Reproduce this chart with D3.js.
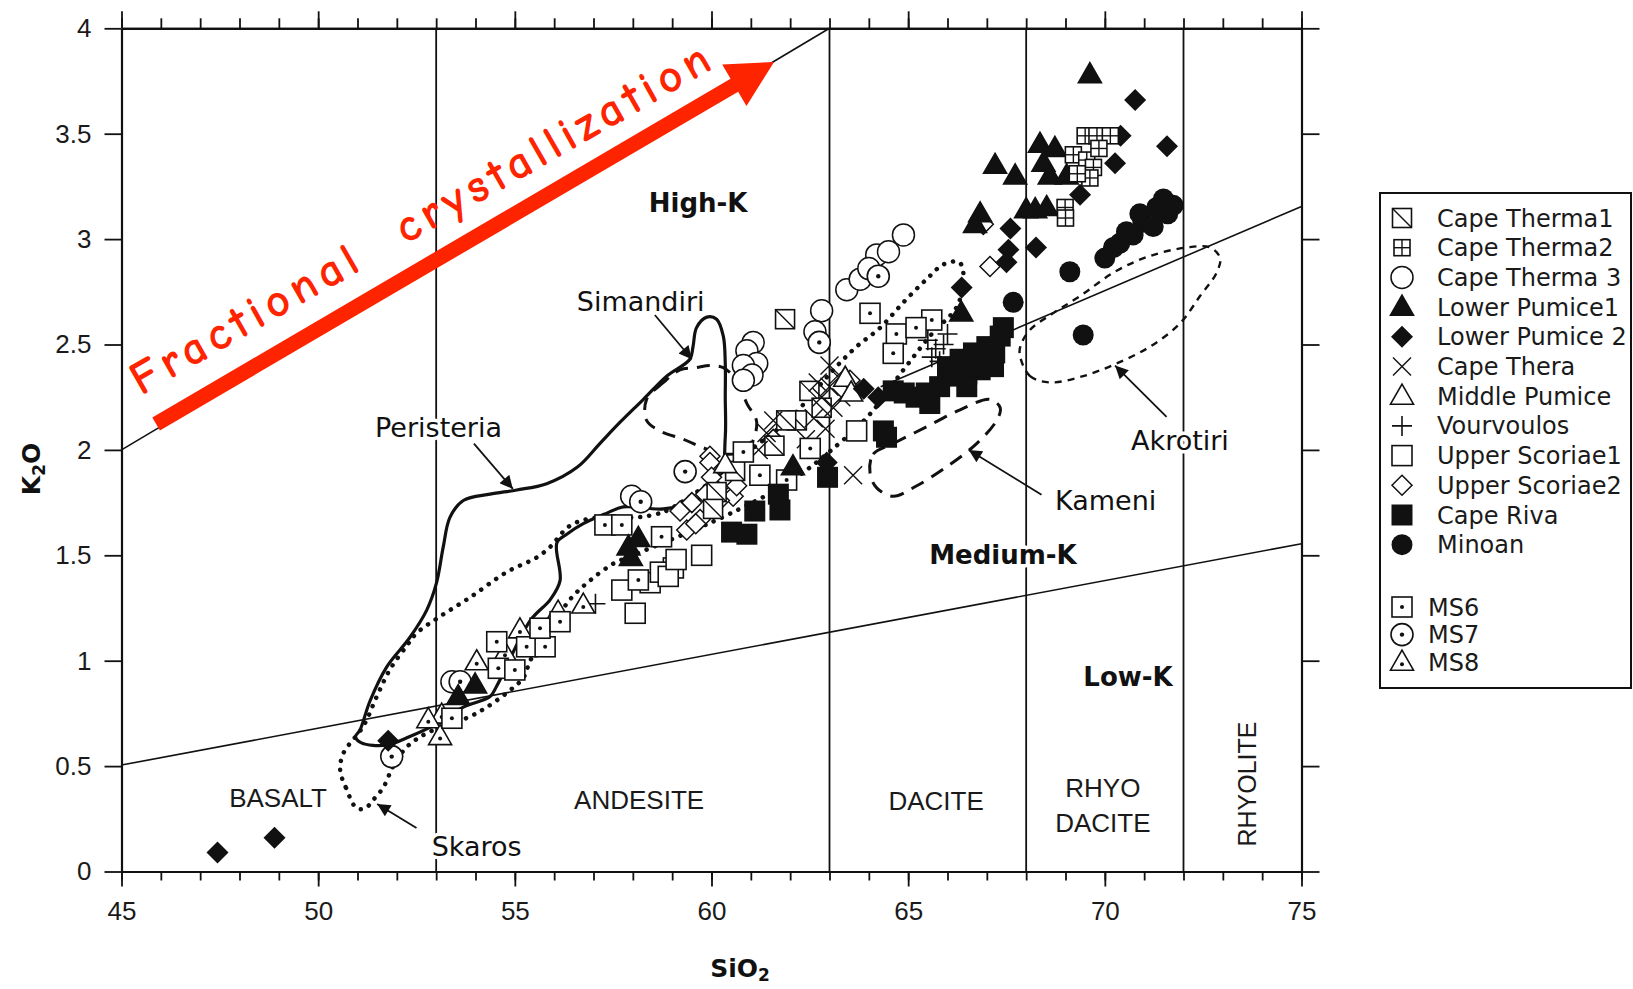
<!DOCTYPE html>
<html lang="en">
<head>
<meta charset="utf-8">
<title>K2O vs SiO2 - Santorini</title>
<script src="https://cdn.jsdelivr.net/npm/d3@7"></script>
<style>
  body { margin: 0; background: #fff; }
  svg { display: block; }
</style>
</head>
<body>
<script>

// ---- data (SiO2, K2O) ----
var capeTherma1 = [[61.87,2.62],[62.49,2.28],[62.17,2.14],[61.9,2.14],[62.8,2.2],[60.13,1.80],[60.04,1.72],[60.6,1.9],[61.6,2.02]];
var capeTherma2 = [[69.5,3.49],[69.8,3.49],[70.14,3.49],[69.2,3.40],[69.54,3.375],[69.71,3.34],[69.62,3.29],[69.3,3.31],[69.85,3.43],[68.99,3.15],[69.0,3.10]];
var capeTherma3 = [[61.06,2.51],[60.9,2.47],[61.15,2.41],[60.81,2.40],[61.03,2.355],[60.81,2.33],[62.8,2.66],[62.63,2.56],[63.44,2.76],[63.78,2.81],[64.2,2.925],[64.5,2.94],[64.88,3.02],[64.0,2.86],[57.97,1.78],[53.4,0.90]];
var lowerPumice1 = [[69.62,3.78],[67.21,3.35],[67.72,3.30],[66.83,3.12],[66.7,3.07],[68.35,3.45],[68.73,3.43],[68.44,3.36],[68.6,3.30],[69.03,3.30],[68.23,3.14],[68.52,3.15],[68.0,3.14],[66.35,2.65],[62.07,1.92],[57.89,1.54],[58.14,1.58],[57.95,1.49],[53.99,0.885],[53.56,0.83]];
var lowerPumice2 = [[47.44,0.09],[48.89,0.16],[51.78,0.62],[62.93,1.94],[63.87,2.29],[64.24,2.25],[66.36,2.77],[67.6,3.05],[67.55,2.95],[67.5,2.89],[68.25,2.96],[70.77,3.66],[71.58,3.44],[70.4,3.49],[70.26,3.36],[69.37,3.21]];
var capeThera = [[62.6,2.15],[62.8,2.25],[63.0,2.3],[63.1,2.2],[63.2,2.35],[62.9,2.1],[63.3,2.25],[62.4,2.05],[63.0,2.4],[62.7,2.32],[61.57,2.14],[61.4,2.08],[61.2,2.0],[63.6,1.88]];
var middlePumice = [[63.4,2.34],[63.55,2.27],[60.35,1.93]];
var vourvoulos = [[65.5,2.52],[65.7,2.48],[65.9,2.5],[65.6,2.44],[66.0,2.55],[65.8,2.42],[57.05,1.27]];
var upperScoriae1 = [[57.72,1.335],[58.06,1.225],[59.03,1.44],[59.75,1.50],[58.44,1.37],[58.7,1.42],[58.9,1.40],[59.1,1.48],[63.69,2.09]];
var upperScoriae2 = [[59.2,1.71],[59.37,1.62],[59.71,1.67],[59.96,1.97],[60.55,1.78],[61.57,2.05],[59.96,1.94],[60.38,1.86],[60.64,1.83],[59.5,1.75],[59.85,1.79],[60.0,1.87],[59.6,1.65],[60.2,1.76],[66.91,3.07],[67.08,2.87],[63.52,2.33]];
var capeRiva = [[60.51,1.61],[60.9,1.60],[61.1,1.71],[61.7,1.79],[61.74,1.715],[62.95,1.87],[64.37,2.09],[64.45,2.06],[64.62,2.28],[64.9,2.27],[65.2,2.25],[65.46,2.27],[65.55,2.22],[65.8,2.3],[66.0,2.395],[66.32,2.43],[66.66,2.46],[67.0,2.49],[67.34,2.54],[67.42,2.58],[66.49,2.36],[66.83,2.38],[67.17,2.395],[66.49,2.30],[66.15,2.35],[66.9,2.42],[67.2,2.46],[66.6,2.4]];
var minoan = [[69.11,2.845],[70.0,2.91],[70.38,2.98],[70.72,3.02],[70.97,3.08],[70.89,3.12],[71.32,3.15],[71.49,3.19],[71.74,3.16],[71.23,3.06],[70.55,3.035],[70.22,2.96],[67.67,2.70],[69.45,2.545],[71.6,3.12]];
var ms6 = [[54.54,1.09],[54.58,0.964],[55.0,0.956],[55.3,1.066],[55.77,1.066],[55.64,1.154],[56.15,1.185],[53.4,0.727],[57.29,1.644],[57.72,1.644],[58.14,1.383],[58.73,1.588],[60.81,1.99],[61.23,1.88],[61.91,1.857],[62.51,2.007],[64.03,2.648],[64.7,2.55],[64.62,2.458],[65.6,2.616],[65.2,2.58]];
var ms7 = [[53.61,0.90],[51.87,0.545],[58.2,1.754],[59.33,1.897],[62.74,2.51],[64.24,2.824]];
var ms8 = [[54.03,0.995],[54.75,1.035],[55.13,1.146],[56.1,1.23],[56.74,1.264],[53.14,0.742],[52.8,0.72],[53.1,0.64]];

// fields
var peristeria = [[50.95,0.64],[51.06,0.67],[51.32,0.81],[51.74,0.97],[52.33,1.11],[52.76,1.24],[53.01,1.37],[53.18,1.54],[53.35,1.68],[53.69,1.76],[54.37,1.79],[55.05,1.81],[55.81,1.84],[56.6,1.92],[57.16,2.03],[57.67,2.13],[58.27,2.24],[58.86,2.35],[59.45,2.43],[59.53,2.49],[59.62,2.58],[59.88,2.63],[60.13,2.62],[60.3,2.54],[60.35,2.41],[60.35,2.25],[60.35,2.06],[60.2,1.85],[59.6,1.76],[58.78,1.72],[57.76,1.73],[57.34,1.70],[56.74,1.65],[56.32,1.60],[56.07,1.56],[56.15,1.38],[55.9,1.29],[55.39,1.19],[54.54,0.88],[54.37,0.83],[53.69,0.78],[53.01,0.70],[52.33,0.64],[51.74,0.60],[51.1,0.61]];
var skaros = [[50.98,0.30],[50.7,0.40],[50.56,0.48],[50.64,0.56],[51.15,0.69],[51.49,0.83],[51.83,0.96],[52.25,1.07],[52.5,1.13],[53.1,1.21],[53.86,1.30],[54.79,1.42],[55.56,1.49],[55.9,1.54],[56.4,1.64],[57.08,1.68],[58.1,1.68],[58.69,1.70],[58.95,1.72],[60.0,1.85],[61.0,2.0],[62.0,2.15],[63.1,2.38],[63.69,2.49],[64.29,2.58],[64.88,2.70],[65.47,2.81],[65.9,2.88],[66.3,2.89],[66.41,2.82],[66.24,2.68],[65.6,2.55],[64.88,2.38],[64.03,2.17],[63.18,2.02],[62.0,1.85],[60.5,1.7],[59.3,1.6],[58.0,1.5],[57.5,1.46],[56.91,1.38],[56.4,1.29],[55.8,1.12],[55.39,1.00],[55.22,0.92],[54.88,0.86],[54.29,0.78],[53.86,0.735],[52.76,0.656],[52.25,0.59],[51.91,0.50],[51.66,0.40],[51.4,0.34],[51.2,0.30]];
var simandiri = [[59.2,2.38],[58.78,2.32],[58.35,2.24],[58.35,2.14],[58.69,2.09],[59.29,2.05],[59.79,2.01],[60.3,1.98],[60.9,2.0],[61.15,2.13],[60.9,2.22],[60.64,2.33],[60.3,2.39],[59.96,2.40],[59.6,2.39]];
var kameni = [[64.03,1.89],[64.11,1.98],[64.62,2.03],[65.47,2.11],[66.32,2.19],[67.08,2.24],[67.34,2.2],[67.25,2.14],[66.74,2.03],[65.98,1.92],[65.22,1.83],[64.62,1.78],[64.2,1.82]];
var akrotiri = [[67.85,2.44],[68.1,2.35],[68.61,2.32],[69.45,2.35],[70.3,2.41],[71.15,2.49],[71.91,2.60],[72.42,2.73],[72.84,2.84],[72.93,2.91],[72.68,2.96],[72.08,2.96],[71.15,2.92],[70.3,2.85],[69.37,2.73],[68.7,2.65],[68.1,2.57],[67.85,2.49]];

// boundaries
var highKUpper = [[45,2.0],[63,4.0]];
var highMedium = [[64.3,2.30],[75,3.155]];
var mediumLow = [[45,0.505],[75,1.555]];
var rockBounds = [53, 63, 68, 72];

var xMajorTicks = [45, 50, 55, 60, 65, 70, 75];
var xMinorTicks = d3.range(45, 76);
var yTicks = [0, 0.5, 1, 1.5, 2, 2.5, 3, 3.5, 4];
var yTickLabels = ["0", "0.5", "1", "1.5", "2", "2.5", "3", "3.5", "4"];

var series = [
  { name: "Cape Therma1", data: capeTherma1, sym: "sqDiag" },
  { name: "Cape Therma2", data: capeTherma2, sym: "sqGrid" },
  { name: "Cape Therma 3", data: capeTherma3, sym: "circle" },
  { name: "Lower Pumice1", data: lowerPumice1, sym: "triFill" },
  { name: "Lower Pumice 2", data: lowerPumice2, sym: "diaFill" },
  { name: "Cape Thera", data: capeThera, sym: "cross" },
  { name: "Middle Pumice", data: middlePumice, sym: "triOpen" },
  { name: "Vourvoulos", data: vourvoulos, sym: "plus" },
  { name: "Upper Scoriae1", data: upperScoriae1, sym: "sqOpen" },
  { name: "Upper Scoriae2", data: upperScoriae2, sym: "diaOpen" },
  { name: "Cape Riva", data: capeRiva, sym: "sqFill" },
  { name: "Minoan", data: minoan, sym: "cirFill" },
  { name: "MS6", data: ms6, sym: "sqDot" },
  { name: "MS7", data: ms7, sym: "cirDot" },
  { name: "MS8", data: ms8, sym: "triDot" }
];
// order the marks are stacked in the plot
var drawOrder = ["Upper Scoriae1", "Upper Scoriae2", "Cape Therma1", "Cape Thera", "Middle Pumice", "Vourvoulos",
  "MS8", "MS6", "Cape Therma 3", "MS7", "Cape Riva", "Lower Pumice 2", "Lower Pumice1", "Cape Therma2", "Minoan"];

// ---- page ----
var w = 1633, h = 989;
var svg = d3.select("body").append("svg").attr("width", w).attr("height", h);

var xScale = d3.scaleLinear().domain([45, 75]).range([121.5, 1301.5]);
var yScale = d3.scaleLinear().domain([0, 4]).range([871.5, 28.3]);

var defs = svg.append("defs");
defs.append("marker").attr("id", "ah")
  .attr("viewBox", "0 0 10 10").attr("refX", 10).attr("refY", 5)
  .attr("markerUnits", "userSpaceOnUse").attr("markerWidth", 20).attr("markerHeight", 13)
  .attr("orient", "auto")
  .append("path").attr("d", "M0,0 L10,5 L0,10 Z").attr("fill", "#111");

var plot = svg.append("g");

// rock type boundaries
plot.selectAll(".vb").data(rockBounds).enter().append("line")
  .attr("x1", function(d) { return xScale(d); }).attr("x2", function(d) { return xScale(d); })
  .attr("y1", yScale(0)).attr("y2", yScale(4))
  .attr("stroke", "#111").attr("stroke-width", 1.8);

var seg = d3.line().x(function(d) { return xScale(d[0]); }).y(function(d) { return yScale(d[1]); });
[highKUpper, highMedium, mediumLow].forEach(function(l) {
  plot.append("path").attr("d", seg(l)).attr("fill", "none").attr("stroke", "#111").attr("stroke-width", 1.6);
});

// fields
var loop = d3.line().x(function(d) { return xScale(d[0]); }).y(function(d) { return yScale(d[1]); })
  .curve(d3.curveCatmullRomClosed.alpha(0.5));

plot.append("path").attr("d", loop(skaros)).attr("fill", "none").attr("stroke", "#111")
  .attr("stroke-width", 4.5).attr("stroke-linecap", "round").attr("stroke-dasharray", "0.1 9");
plot.append("path").attr("d", loop(peristeria)).attr("fill", "none").attr("stroke", "#111")
  .attr("stroke-width", 3.2).attr("stroke-linejoin", "round");
plot.append("path").attr("d", loop(simandiri)).attr("fill", "none").attr("stroke", "#111")
  .attr("stroke-width", 3).attr("stroke-dasharray", "13 9");
plot.append("path").attr("d", loop(kameni)).attr("fill", "none").attr("stroke", "#111")
  .attr("stroke-width", 3).attr("stroke-dasharray", "14 9");
plot.append("path").attr("d", loop(akrotiri)).attr("fill", "none").attr("stroke", "#111")
  .attr("stroke-width", 2.4).attr("stroke-dasharray", "7 6");

// symbols
function drawSymbol(g, sym) {
  var k = "#111";
  function tri(fill) {
    return g.append("path").attr("d", "M0,-12 L11.5,8 L-11.5,8 Z").attr("fill", fill).attr("stroke", k).attr("stroke-width", 1.6);
  }
  switch (sym) {
    case "sqDiag":
      g.append("rect").attr("x", -9.5).attr("y", -9.5).attr("width", 19).attr("height", 19).attr("fill", "#fff").attr("stroke", k).attr("stroke-width", 1.6);
      g.append("line").attr("x1", -9.5).attr("y1", -9.5).attr("x2", 9.5).attr("y2", 9.5).attr("stroke", k).attr("stroke-width", 1.4);
      break;
    case "sqGrid":
      g.append("rect").attr("x", -8).attr("y", -8).attr("width", 16).attr("height", 16).attr("fill", "#fff").attr("stroke", k).attr("stroke-width", 1.6);
      g.append("line").attr("x1", 0).attr("y1", -8).attr("x2", 0).attr("y2", 8).attr("stroke", k).attr("stroke-width", 1.4);
      g.append("line").attr("x1", -8).attr("y1", 0).attr("x2", 8).attr("y2", 0).attr("stroke", k).attr("stroke-width", 1.4);
      break;
    case "circle":
      g.append("circle").attr("r", 11).attr("fill", "#fff").attr("stroke", k).attr("stroke-width", 1.5);
      break;
    case "triFill": tri(k); break;
    case "triOpen": tri("#fff"); break;
    case "triDot":
      tri("#fff");
      g.append("circle").attr("cy", 2).attr("r", 2).attr("fill", k);
      break;
    case "diaFill":
      g.append("path").attr("d", "M0,-11 L11,0 L0,11 L-11,0 Z").attr("fill", k);
      break;
    case "diaOpen":
      g.append("path").attr("d", "M0,-10 L10,0 L0,10 L-10,0 Z").attr("fill", "#fff").attr("stroke", k).attr("stroke-width", 1.5);
      break;
    case "cross":
      g.append("path").attr("d", "M-9,-9 L9,9 M-9,9 L9,-9").attr("stroke", k).attr("stroke-width", 1.4);
      break;
    case "plus":
      g.append("path").attr("d", "M-10,0 L10,0 M0,-10 L0,10").attr("stroke", k).attr("stroke-width", 1.6);
      break;
    case "sqOpen":
      g.append("rect").attr("x", -10).attr("y", -10).attr("width", 20).attr("height", 20).attr("fill", "#fff").attr("stroke", k).attr("stroke-width", 1.6);
      break;
    case "sqFill":
      g.append("rect").attr("x", -10.5).attr("y", -10.5).attr("width", 21).attr("height", 21).attr("fill", k);
      break;
    case "cirFill":
      g.append("circle").attr("r", 10.5).attr("fill", k);
      break;
    case "sqDot":
      g.append("rect").attr("x", -10).attr("y", -10).attr("width", 20).attr("height", 20).attr("fill", "#fff").attr("stroke", k).attr("stroke-width", 1.6);
      g.append("circle").attr("r", 2).attr("fill", k);
      break;
    case "cirDot":
      g.append("circle").attr("r", 11).attr("fill", "#fff").attr("stroke", k).attr("stroke-width", 1.6);
      g.append("circle").attr("r", 2.2).attr("fill", k);
      break;
  }
}

drawOrder.forEach(function(name) {
  var s = series.find(function(d) { return d.name === name; });
  plot.append("g").selectAll("g").data(s.data).enter().append("g")
    .attr("transform", function(d) { return "translate(" + xScale(d[0]) + "," + yScale(d[1]) + ")"; })
    .each(function() { drawSymbol(d3.select(this), s.sym); });
});

// ---- axes ----
function styleAxis(g) {
  g.select(".domain").attr("stroke", "#111").attr("stroke-width", 2.2);
  g.selectAll(".tick line").attr("stroke", "#111").attr("stroke-width", 1.8);
  g.selectAll("text").attr("font-family", "'Liberation Sans', Arial, sans-serif").attr("font-size", 26).attr("fill", "#1a1a1a");
}
svg.append("g").attr("transform", "translate(0," + yScale(0) + ")")
  .call(d3.axisBottom(xScale).tickValues(xMinorTicks).tickSize(9).tickSizeOuter(0).tickFormat("")).call(styleAxis);
svg.append("g").attr("transform", "translate(0," + yScale(0) + ")")
  .call(d3.axisBottom(xScale).tickValues(xMajorTicks).tickSize(15).tickPadding(15).tickSizeOuter(0).tickFormat(d3.format("d"))).call(styleAxis);
svg.append("g").attr("transform", "translate(0," + yScale(4) + ")")
  .call(d3.axisTop(xScale).tickValues(xMinorTicks).tickSize(10).tickSizeOuter(0).tickFormat("")).call(styleAxis);
svg.append("g").attr("transform", "translate(0," + yScale(4) + ")")
  .call(d3.axisTop(xScale).tickValues(xMajorTicks).tickSize(17).tickSizeOuter(0).tickFormat("")).call(styleAxis);
svg.append("g").attr("transform", "translate(" + xScale(45) + ",0)")
  .call(d3.axisLeft(yScale).tickValues(yTicks).tickSize(17).tickPadding(13).tickSizeOuter(0)
    .tickFormat(function(d, i) { return yTickLabels[i]; })).call(styleAxis);
svg.append("g").attr("transform", "translate(" + xScale(75) + ",0)")
  .call(d3.axisRight(yScale).tickValues(yTicks).tickSize(18).tickSizeOuter(0).tickFormat("")).call(styleAxis);

// axis titles
var t1 = svg.append("text").attr("transform", "translate(40," + 469 + ") rotate(-90)")
  .attr("text-anchor", "middle").attr("font-family", "'DejaVu Sans', sans-serif").attr("font-weight", "bold")
  .attr("font-size", 25).attr("fill", "#111");
t1.append("tspan").text("K");
t1.append("tspan").attr("font-size", 17).attr("dy", 5).text("2");
t1.append("tspan").attr("dy", -5).text("O");
var t2 = svg.append("text").attr("x", 740).attr("y", 977)
  .attr("text-anchor", "middle").attr("font-family", "'DejaVu Sans', sans-serif").attr("font-weight", "bold")
  .attr("font-size", 25).attr("fill", "#111");
t2.append("tspan").text("SiO");
t2.append("tspan").attr("font-size", 17).attr("dy", 4).text("2");

// ---- annotations ----
function halo(sel) {
  return sel.attr("stroke", "#fff").attr("stroke-width", 7).attr("paint-order", "stroke").attr("stroke-linejoin", "round");
}
var fieldLabels = [
  { t: "Simandiri", x: 58.2, y: 2.66 },
  { t: "Peristeria", x: 53.06, y: 2.063 },
  { t: "Skaros", x: 54.03, y: 0.075 },
  { t: "Kameni", x: 70.02, y: 1.715 },
  { t: "Akrotiri", x: 71.91, y: 2.0 }
];
var leaders = [
  [[58.56, 2.64], [59.5, 2.43]],
  [[53.96, 2.03], [54.95, 1.815]],
  [[52.5, 0.206], [51.5, 0.32]],
  [[68.39, 1.787], [66.54, 2.0]],
  [[71.57, 2.157], [70.26, 2.40]]
];
leaders.forEach(function(l) {
  svg.append("line").attr("x1", xScale(l[0][0])).attr("y1", yScale(l[0][1]))
    .attr("x2", xScale(l[1][0])).attr("y2", yScale(l[1][1]))
    .attr("stroke", "#111").attr("stroke-width", 1.8).attr("marker-end", "url(#ah)");
});
svg.selectAll(".fl").data(fieldLabels).enter().append("text")
  .attr("x", function(d) { return xScale(d.x); }).attr("y", function(d) { return yScale(d.y); })
  .attr("text-anchor", "middle").attr("font-family", "'DejaVu Sans', sans-serif").attr("font-size", 27)
  .attr("fill", "#111").text(function(d) { return d.t; }).call(halo);

var kLabels = [
  { t: "High-K", x: 59.66, y: 3.13 },
  { t: "Medium-K", x: 67.41, y: 1.46 },
  { t: "Low-K", x: 70.59, y: 0.878 }
];
svg.selectAll(".kl").data(kLabels).enter().append("text")
  .attr("x", function(d) { return xScale(d.x); }).attr("y", function(d) { return yScale(d.y); })
  .attr("text-anchor", "middle").attr("font-family", "'DejaVu Sans', sans-serif").attr("font-weight", "bold")
  .attr("font-size", 26).attr("fill", "#111").text(function(d) { return d.t; }).call(halo);

var rockLabels = [
  { t: "BASALT", x: 48.98, y: 0.304 },
  { t: "ANDESITE", x: 58.16, y: 0.296 },
  { t: "DACITE", x: 65.71, y: 0.292 },
  { t: "RHYO", x: 69.95, y: 0.353 },
  { t: "DACITE", x: 69.95, y: 0.189 }
];
svg.selectAll(".rl").data(rockLabels).enter().append("text")
  .attr("x", function(d) { return xScale(d.x); }).attr("y", function(d) { return yScale(d.y); })
  .attr("text-anchor", "middle").attr("font-family", "'Liberation Sans', Arial, sans-serif")
  .attr("font-size", 26).attr("fill", "#1a1a1a").text(function(d) { return d.t; });
svg.append("text").attr("transform", "translate(" + xScale(73.84) + "," + yScale(0.415) + ") rotate(-90)")
  .attr("text-anchor", "middle").attr("font-family", "'Liberation Sans', Arial, sans-serif")
  .attr("font-size", 25).attr("fill", "#1a1a1a").text("RHYOLITE");

// red fractional crystallization arrow
var fcStart = [45.88, 2.123], fcTip = [61.59, 3.84];
(function() {
  var x0 = xScale(fcStart[0]), y0 = yScale(fcStart[1]);
  var x1 = xScale(fcTip[0]), y1 = yScale(fcTip[1]);
  var dx = x1 - x0, dy = y1 - y0, L = Math.sqrt(dx * dx + dy * dy);
  var ux = dx / L, uy = dy / L, nx = -uy, ny = ux;
  var headL = 46, headW = 24, barW = 7.5;
  var bx = x1 - ux * headL, by = y1 - uy * headL;
  var pts = [
    [x0 + nx * barW, y0 + ny * barW], [bx + nx * barW, by + ny * barW],
    [bx + nx * headW, by + ny * headW], [x1, y1],
    [bx - nx * headW, by - ny * headW], [bx - nx * barW, by - ny * barW],
    [x0 - nx * barW, y0 - ny * barW]
  ];
  svg.append("path").attr("d", "M" + pts.join("L") + "Z").attr("fill", "#ff2400");
  var ang = Math.atan2(dy, dx) * 180 / Math.PI;
  svg.append("text").attr("transform", "translate(141,396) rotate(" + (ang + 0.6) + ")")
    .attr("font-family", "'Comic Sans MS', 'Comic Neue', 'DejaVu Sans', sans-serif")
    .attr("font-size", 47).attr("font-weight", "bold").attr("fill", "#ff2400")
    .attr("textLength", 660).attr("lengthAdjust", "spacing")
    .attr("xml:space", "preserve").style("white-space", "pre")
    .text("Fractional  crystallization");
})();

// ---- legend ----
var legend = svg.append("g");
legend.append("rect").attr("x", 1380).attr("y", 193).attr("width", 251).attr("height", 495)
  .attr("fill", "#fff").attr("stroke", "#111").attr("stroke-width", 2);
series.forEach(function(s, i) {
  var cy = i < 12 ? 218 + i * 29.7 : 607 + (i - 12) * 27.6;
  var g = legend.append("g").attr("transform", "translate(1402," + cy + ")");
  drawSymbol(g, s.sym);
  legend.append("text").attr("x", i < 12 ? 1437 : 1428).attr("y", cy + 8.5)
    .attr("font-family", "'DejaVu Sans', sans-serif").attr("font-size", 24).attr("fill", "#1a1a1a")
    .text(s.name);
});

</script>
</body>
</html>
